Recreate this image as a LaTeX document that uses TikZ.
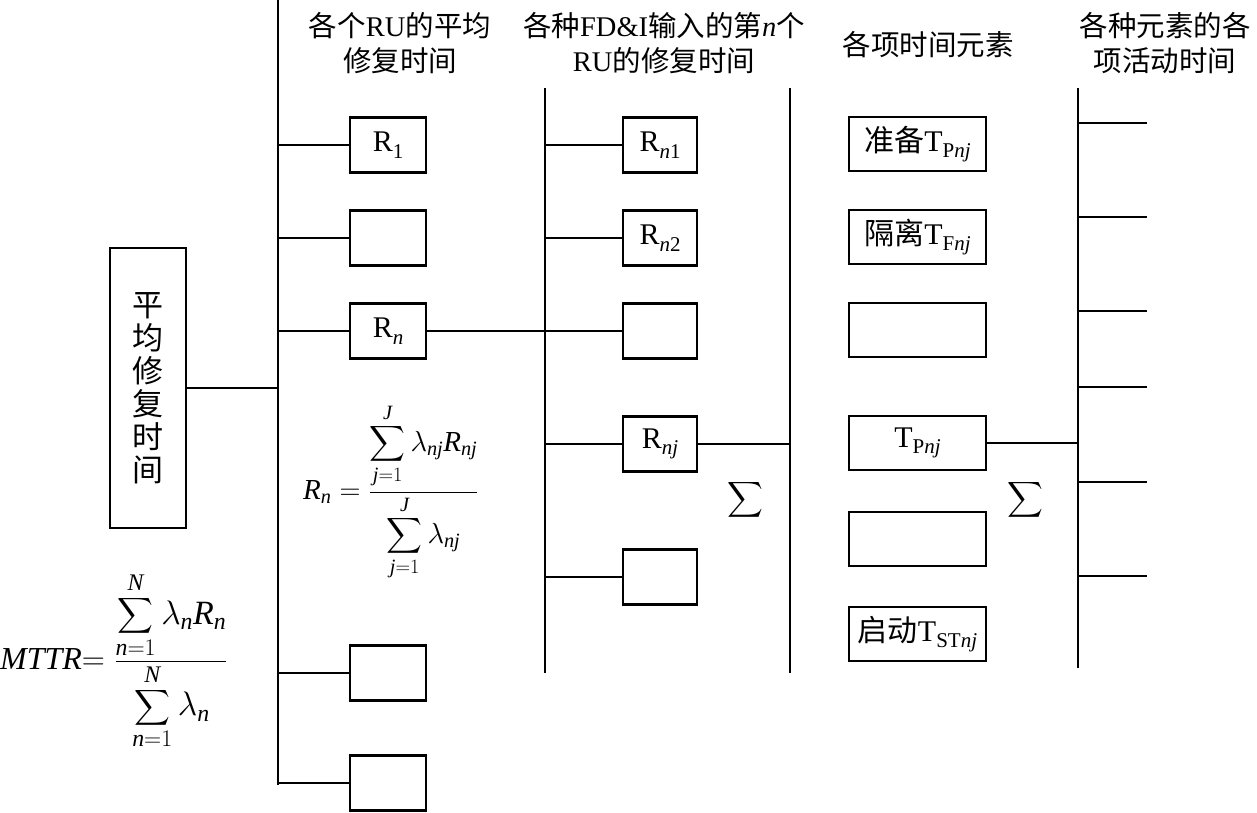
\RequirePackage{fix-cm}
\documentclass[tikz,border=0pt]{standalone}
\usepackage{exscale}
\usepackage{fontspec}
\setmainfont{Liberation Serif}
\newfontfamily\cjk{Noto Sans CJK SC}
\newcommand\mysub[1]{\raisebox{-0.22em}{\fontsize{21}{21}\selectfont #1}}
\newcommand\mi[1]{\mathit{#1}}
\begin{document}
\begin{tikzpicture}[x=1pt,y=-1pt,
  box/.style={draw,line width=2.6pt,inner sep=0pt,font=\fontsize{30}{34}\selectfont},
  rbox/.style={box,minimum width=76pt,minimum height=55pt},
  sbox/.style={box,minimum width=74pt,minimum height=55pt},
  tbox/.style={box,minimum width=137pt,minimum height=54pt},
  vline/.style={line width=1.6pt},
  hline/.style={line width=1.2pt},
  head/.style={align=center,font=\fontsize{28.5}{35}\selectfont},
  sig/.style={inner sep=0pt,font=\fontsize{30}{30}\selectfont},
]
\useasboundingbox (0,0) rectangle (1257,813);

% headers
\node[head] (h1) at (400,43) {{\cjk 各个}RU{\cjk 的平均}\\{\cjk 修复时间}};
\node[head] (h2) at (664,43) {{\cjk 各种}FD\&I{\cjk 输入的第}\textit{n}{\cjk 个}\\RU{\cjk 的修复时间}};
\node[head] (h3) at (928,45) {{\cjk 各项时间元素}};
\node[head] (h4) at (1165,43) {{\cjk 各种元素的各}\\{\cjk 项活动时间}};

% main box
\node[box,minimum width=76pt,minimum height=280pt,align=center,font=\cjk\fontsize{31}{33}\selectfont] (main) at (148,388) {平\\均\\修\\复\\时\\间};

% vertical lines
\coordinate (v1t) at (278,0);   \coordinate (v1b) at (278,785);
\coordinate (v2t) at (545,88);  \coordinate (v2b) at (545,673);
\coordinate (v3t) at (790,88);  \coordinate (v3b) at (790,673);
\coordinate (v4t) at (1078,88); \coordinate (v4b) at (1078,668);
\draw[vline] (v1t) -- (v1b);
\draw[vline] (v2t) -- (v2b);
\draw[vline] (v3t) -- (v3b);
\draw[vline] (v4t) -- (v4b);

% column 2 boxes
\node[rbox] (r1) at (388,145) {R\mysub{1}};
\node[rbox] (r2) at (388,238) {};
\node[rbox] (rn) at (388,331) {R\mysub{\textit{n}}};
\node[rbox] (r4) at (388,673) {};
\node[rbox] (r5) at (388,783) {};

% column 3 boxes
\node[sbox] (s1) at (660,145) {R\mysub{\textit{n}1}};
\node[sbox] (s2) at (660,238) {R\mysub{\textit{n}2}};
\node[sbox] (s3) at (660,331) {};
\node[sbox] (snj) at (660,444) {R\mysub{\textit{nj}}};
\node[sbox] (s5) at (660,577) {};

% column 4 boxes
\node[tbox] (t1) at (917.5,144) {{\cjk 准备}T\mysub{P\textit{nj}}};
\node[tbox] (t2) at (917.5,237) {{\cjk 隔离}T\mysub{F\textit{nj}}};
\node[tbox] (t3) at (917.5,330) {};
\node[tbox] (tp) at (917.5,443) {T\mysub{P\textit{nj}}};
\node[tbox] (t5) at (917.5,539) {};
\node[tbox] (t6) at (917.5,634) {{\cjk 启动}T\mysub{ST\textit{nj}}};

% connectors
\draw[hline] (main.east) -- (main.east -| v1t);
\foreach \b in {r1,r2,rn,r4,r5} \draw[hline] (\b.west) -- (\b.west -| v1t);
\draw[hline] (rn.east) -- (rn.east -| v2t);
\foreach \b in {s1,s2,s3,snj,s5} \draw[hline] (\b.west) -- (\b.west -| v2t);
\draw[hline] (snj.east) -- (snj.east -| v3t);
\draw[hline] (tp.east) -- (tp.east -| v4t);

% right branches
\coordinate (e1) at (1147,123);
\coordinate (e2) at (1147,217);
\coordinate (e3) at (1147,311);
\coordinate (e4) at (1147,387);
\coordinate (e5) at (1147,482);
\coordinate (e6) at (1147,576);
\foreach \e in {e1,e2,e3,e4,e5,e6} \draw[hline] (v4t |- \e) -- (\e);

% sums
\node[sig] (sg1) at (745,500) {$\displaystyle\sum$};
\node[sig] (sg2) at (1025,500) {$\displaystyle\sum$};

% formulas
\node[anchor=west,inner sep=0pt,font=\fontsize{34}{40}\selectfont] (f1) at (0,661)
  {$\mbox{\fontsize{32}{36}\selectfont$\mi{MTTR}{=}$}\;\displaystyle\frac{\raisebox{3pt}{$\displaystyle\sum_{\mi{n}=1}^{\mi{N}}\lambda_{\mi{n}}\mi{R}_{\mi{n}}$}}{\raisebox{-3pt}{$\displaystyle\sum_{\mi{n}=1}^{\mi{N}}\lambda_{\mi{n}}$}}$};
\node[anchor=west,inner sep=0pt,font=\fontsize{29}{34}\selectfont] (f2) at (303,492)
  {$\mi{R}_{\mi{n}}=\displaystyle\frac{\raisebox{3pt}{$\displaystyle\sum_{\mi{j}=1}^{\mi{J}}\lambda_{\mi{nj}}\mi{R}_{\mi{nj}}$}}{\raisebox{-3pt}{$\displaystyle\sum_{\mi{j}=1}^{\mi{J}}\lambda_{\mi{nj}}$}}$};
\end{tikzpicture}
\end{document}
